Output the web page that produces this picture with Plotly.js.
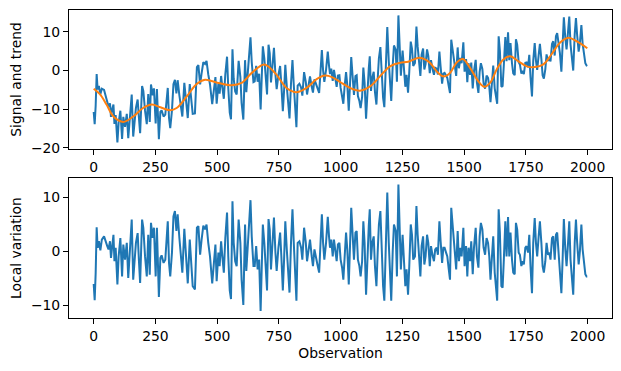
<!DOCTYPE html>
<html>
<head>
<meta charset="utf-8">
<script src="https://cdn.plot.ly/plotly-3.0.1.min.js"></script>
<style>html,body{margin:0;padding:0;background:#fff;}#chart{width:621px;height:371px;}</style>
</head>
<body>
<div id="chart"></div>
<script>
// Observation index of each read point (shared by signal and local variation)
const observations = [
  0,4,8,12,16,21,27,33,42,47,
  55,60,66,70,75,80,84,89,96,101,
  108,115,120,127,134,140,154,160,171,178,
  183,188,196,201,208,215,221,227,232,239,
  244,251,256,264,270,275,283,290,300,305,
  310,317,323,329,335,340,347,354,359,367,
  374,381,389,396,401,410,418,424,431,437,
  444,451,457,464,471,480,487,493,498,505,
  510,516,521,527,533,540,545,551,556,562,
  567,573,579,587,594,599,606,613,618,624,
  629,635,640,647,652,658,664,670,676,685,
  691,697,702,708,713,718,725,730,736,741,
  748,755,760,766,771,776,782,787,793,799,
  805,810,816,821,826,833,840,845,852,859,
  864,870,876,883,888,894,901,906,913,918,
  924,929,934,941,948,953,957,962,968,973,
  979,984,989,995,1000,1006,1011,1016,1022,1027,
  1033,1038,1043,1049,1054,1060,1065,1070,1076,1081,
  1087,1092,1097,1103,1108,1114,1118,1123,1128,1134,
  1139,1145,1150,1155,1161,1166,1172,1177,1184,1189,
  1195,1200,1205,1211,1216,1223,1228,1234,1239,1244,
  1251,1257,1262,1267,1273,1278,1284,1289,1294,1301,
  1307,1312,1317,1323,1328,1334,1339,1344,1350,1355,
  1361,1366,1373,1378,1383,1389,1394,1400,1405,1411,
  1416,1421,1427,1432,1438,1443,1448,1454,1459,1468,
  1474,1479,1485,1490,1497,1502,1508,1513,1518,1524,
  1529,1535,1540,1547,1552,1558,1563,1568,1574,1579,
  1585,1591,1597,1602,1607,1613,1618,1624,1629,1634,
  1640,1645,1651,1656,1661,1667,1672,1678,1683,1688,
  1694,1699,1705,1710,1715,1721,1726,1732,1737,1742,
  1748,1753,1759,1764,1769,1775,1780,1786,1791,1796,
  1802,1807,1813,1818,1823,1829,1834,1840,1845,1850,
  1856,1861,1867,1872,1877,1883,1888,1894,1899,1904,
  1910,1915,1921,1926,1931,1937,1942,1948,1953,1958,
  1964,1969,1975,1980,1985,1991,1996,1999
];

// Top panel: the raw signal (blue)
const signalValues = [
  -10.7,-13.9,-9.1,-0.9,-4.9,-4.0,-6.1,-4.7,-5.0,-6.4,
  -8.1,-9.3,-8.5,-12.0,-10.0,-8.8,-13.8,-11.5,-18.6,-13.5,
  -10.4,-17.7,-12.0,-14.6,-11.2,-17.5,-6.2,-17.1,-9.7,-7.5,
  -12.1,-16.2,-4.0,-5.3,-10.4,-13.9,-6.1,-13.3,-3.6,-6.4,
  -4.6,-13.7,-4.8,-17.8,-10.7,-10.3,-11.9,-11.4,-4.5,-12.3,
  -14.9,-10.3,-3.5,-2.4,-5.9,-2.5,-6.4,-10.2,-11.9,-3.2,
  -7.8,-12.3,-3.5,-7.3,-11.2,-11.1,0.9,1.4,-3.6,-0.7,
  2.2,1.7,2.5,-1.0,-3.6,-8.7,-3.9,-1.7,-8.6,-3.4,
  -6.0,-1.4,-4.3,-7.3,-1.0,3.6,-4.5,-10.9,-12.6,5.5,
  -2.1,-5.4,-6.2,2.5,-1.7,-8.4,-12.7,2.7,-5.6,-0.9,
  1.8,8.6,2.2,-3.0,-2.8,1.2,-2.9,-0.8,-10.1,6.3,
  3.2,-1.1,-6.2,6.7,4.5,-3.1,2.4,5.9,-1.0,-4.8,
  -1.1,1.2,-3.7,-10.5,-5.2,1.5,-4.1,-9.3,-12.4,-3.4,
  2.7,-3.4,-10.0,-14.7,-3.9,-3.4,-4.4,-6.5,-0.4,-3.0,
  -6.2,-3.7,-1.5,-4.2,-5.7,-2.3,-3.8,-4.5,-5.8,-0.8,
  5.3,0.1,-2.9,0.2,4.9,1.3,-0.9,0.5,-2.7,0.2,
  -2.1,-4.2,-1.3,-1.2,-4.5,-6.3,-8.6,-4.2,-0.4,-3.7,
  -10.4,-3.5,3.5,-1.9,-6.3,-1.4,-1.2,-6.6,-7.9,-9.7,
  -6.8,0.8,-3.1,-12.5,-4.6,0.5,3.7,-5.3,-1.9,-0.3,
  -5.5,-8.8,-2.3,3.2,6.1,-0.4,-7.1,-9.5,4.1,11.3,
  2.4,-2.8,-7.9,1.4,6.5,5.4,-2.9,14.3,3.9,-1.3,
  5.2,-0.5,-4.2,-1.1,-5.7,-0.3,7.5,5.7,1.2,2.0,
  11.4,6.2,1.7,-1.4,4.1,5.7,0.3,1.7,5.5,3.8,
  -0.7,2.7,0.2,-1.1,0.7,0.5,-1.0,4.9,1.0,-3.4,
  -0.8,-0.6,-1.3,-1.9,-4.1,-5.8,8.0,5.2,2.6,-1.4,
  6.0,0.6,3.3,1.9,7.3,-0.3,3.0,-3.0,1.9,-1.1,
  2.1,-4.6,-0.2,2.8,-3.1,-5.8,-0.3,1.9,0.4,-3.3,
  -4.7,-1.3,-1.9,-4.2,-8.2,-3.1,1.3,-4.6,-6.5,-8.6,
  8.9,5.1,-4.2,-4.0,1.5,8.7,2.4,9.9,2.7,7.1,
  1.9,-0.7,-1.2,8.1,6.7,2.2,1.6,-0.8,-0.1,-0.9,
  2.0,2.1,0.9,4.1,-1.7,-6.7,2.5,7.1,2.6,0.2,
  4.0,6.9,3.0,-1.2,-2.1,0.4,4.2,2.5,3.3,2.4,
  6.9,7.6,3.9,8.9,9.7,6.6,4.5,-0.3,6.1,13.8,
  8.4,5.5,10.1,14.0,6.8,3.2,0.0,9.4,13.6,9.1,
  4.9,7.2,11.8,7.0,4.9,1.9,1.3,1.2
];

// Bottom panel: local variation
const localVariation = [
  -6.0,-9.0,-4.0,4.5,0.7,1.9,0.2,2.2,2.8,1.9,
  1.0,0.4,1.9,-1.2,1.3,3.1,-1.8,0.7,-6.1,-0.9,
  2.5,-4.6,1.3,-1.5,1.6,-4.9,5.9,-5.2,1.6,3.4,
  -1.5,-5.8,5.9,4.4,-0.9,-4.6,3.1,-4.3,5.3,2.5,
  4.4,-4.6,4.4,-8.4,-1.2,-0.7,-2.1,-1.5,5.6,-2.1,
  -4.6,-0.2,6.5,7.5,3.8,6.9,2.5,-1.8,-3.9,4.2,
  -0.9,-5.9,2.2,-2.1,-6.4,-7.0,4.4,4.7,-0.6,2.2,
  4.8,4.1,5.0,1.6,-0.9,-5.9,-0.9,1.3,-5.5,-0.2,
  -2.7,1.9,-0.9,-3.9,2.5,7.2,-0.9,-7.2,-8.8,9.3,
  1.6,-1.8,-2.7,5.9,1.6,-5.2,-9.9,5.0,-3.6,0.7,
  3.1,9.5,2.8,-2.7,-2.7,1.0,-3.3,-1.5,-11.0,5.0,
  1.6,-2.4,-7.2,6.0,4.0,-3.3,2.5,6.3,-0.2,-3.6,
  0.7,3.5,-0.9,-7.2,-1.5,5.6,0.4,-4.6,-7.6,1.6,
  7.8,1.9,-4.6,-9.1,1.6,1.9,0.7,-1.5,4.4,1.6,
  -1.8,0.4,2.2,-0.9,-2.7,0.4,-1.5,-2.4,-3.9,1.0,
  6.9,1.6,-1.5,1.6,6.4,2.8,0.7,2.2,-0.9,2.2,
  0.1,-1.8,1.3,1.6,-1.5,-3.0,-5.2,-0.6,3.5,0.4,
  -6.1,1.0,8.1,2.8,-1.5,3.5,3.8,-1.5,-2.7,-4.6,
  -1.8,5.6,1.6,-8.0,-0.2,4.7,7.8,-1.5,1.6,2.8,
  -2.7,-6.4,-0.2,5.0,7.5,0.7,-6.4,-9.1,4.1,10.9,
  1.6,-3.9,-9.1,0.1,5.0,3.8,-4.6,12.4,1.9,-3.3,
  3.1,-2.7,-6.4,-3.3,-8.0,-2.7,5.0,3.1,-1.5,-0.9,
  8.4,3.1,-1.5,-4.6,1.0,2.8,-2.4,-0.9,3.1,1.6,
  -2.7,1.0,-0.9,-1.8,0.4,0.7,-0.6,5.6,1.9,-2.1,
  0.7,0.7,-0.2,-0.9,-3.3,-5.2,8.1,4.7,1.6,-3.3,
  3.8,-1.8,0.7,-0.9,4.4,-2.7,1.0,-4.6,0.7,-1.8,
  1.9,-4.2,0.7,4.4,-0.9,-3.0,2.8,5.3,4.1,0.7,
  -0.6,2.5,1.6,-0.9,-5.2,-0.9,2.8,-3.9,-6.4,-9.1,
  7.8,3.5,-6.4,-6.7,-1.5,5.6,-0.9,6.4,-0.9,3.5,
  -1.5,-3.9,-4.2,5.3,4.1,-0.2,-0.6,-2.7,-1.8,-2.4,
  0.7,1.0,-0.2,3.1,-2.7,-7.7,1.6,6.2,1.6,-0.9,
  2.8,5.6,1.6,-2.7,-3.9,-1.8,1.6,-0.6,-0.2,-1.5,
  2.5,2.8,-1.5,3.1,3.5,-0.2,-2.7,-7.7,-1.5,6.0,
  0.4,-2.7,1.6,5.6,-1.5,-4.9,-8.0,1.6,5.9,1.6,
  -2.4,0.1,5.0,0.4,-1.5,-4.2,-4.6,-4.6
];

// Trend (orange), read at its own points
const trendObservations = [
  0,25,52,80,120,160,200,235,270,310,
  336,377,417,451,505,559,599,640,691,734,
  781,822,862,903,937,965,997,1038,1078,1119,
  1159,1200,1240,1274,1321,1362,1389,1416,1443,1470,
  1495,1524,1558,1582,1605,1632,1659,1686,1720,1754,
  1787,1821,1855,1888,1922,1956,1999
];
const trendValues = [
  -4.7,-6.1,-8.8,-11.9,-13.3,-11.9,-9.7,-8.8,-9.5,-10.3,
  -9.7,-6.7,-3.5,-2.4,-3.2,-3.8,-3.2,-0.6,1.6,-0.6,
  -4.5,-5.6,-4.5,-2.2,-1.3,-1.7,-2.9,-4.5,-5.2,-4.1,
  -1.5,1.1,2.0,2.3,3.3,2.0,-0.2,-1.5,-0.6,2.1,
  3.0,0.7,-2.8,-4.2,-3.2,0.3,2.9,3.7,2.4,1.1,
  0.9,1.6,4.3,7.2,8.5,7.6,5.8
];

const xTicks = [0,250,500,750,1000,1250,1500,1750,2000];
const topYTicks = [-20,-10,0,10];
const bottomYTicks = [-10,0,10];

const BLUE = '#1f77b4', ORANGE = '#ff7f0e';
const FONT = {family: 'DejaVu Sans', size: 13.9, color: '#000'};

const traces = [
  {x: observations, y: signalValues, type: 'scatter', mode: 'lines',
   line: {color: BLUE, width: 2}, xaxis: 'x', yaxis: 'y', hoverinfo: 'skip'},
  {x: trendObservations, y: trendValues, type: 'scatter', mode: 'lines',
   line: {color: ORANGE, width: 2, shape: 'spline', smoothing: 1}, xaxis: 'x', yaxis: 'y', hoverinfo: 'skip'},
  {x: observations, y: localVariation, type: 'scatter', mode: 'lines',
   line: {color: BLUE, width: 2}, xaxis: 'x2', yaxis: 'y2', hoverinfo: 'skip'}
];

const axisCommon = {
  showgrid: false, zeroline: false, showline: true, mirror: true,
  linecolor: '#000', linewidth: 1, ticks: 'outside', ticklen: 5, tickwidth: 1,
  tickcolor: '#000', tickfont: FONT, automargin: false
};

const layout = {
  width: 621, height: 371,
  margin: {l: 69, r: 9, t: 10, b: 53},
  paper_bgcolor: '#fff', plot_bgcolor: '#fff',
  showlegend: false, font: FONT,
  xaxis: Object.assign({}, axisCommon, {domain: [0, 1], anchor: 'y', range: [-100, 2099],
    tickmode: 'array', tickvals: xTicks, ticktext: xTicks.map(String)}),
  yaxis: Object.assign({}, axisCommon, {domain: [0.549, 1], anchor: 'x', range: [-20.3, 15.7],
    tickmode: 'array', tickvals: topYTicks,
    title: {text: 'Signal and trend', font: FONT, standoff: 6}}),
  xaxis2: Object.assign({}, axisCommon, {domain: [0, 1], anchor: 'y2', range: [-100, 2099],
    tickmode: 'array', tickvals: xTicks, ticktext: xTicks.map(String),
    title: {text: 'Observation', font: FONT, standoff: 5}}),
  yaxis2: Object.assign({}, axisCommon, {domain: [0, 0.4545], anchor: 'x2', range: [-12.3, 13.6],
    tickmode: 'array', tickvals: bottomYTicks,
    title: {text: 'Local variation', font: FONT, standoff: 6}})
};

Plotly.newPlot('chart', traces, layout, {displayModeBar: false, staticPlot: true});
</script>
</body>
</html>
